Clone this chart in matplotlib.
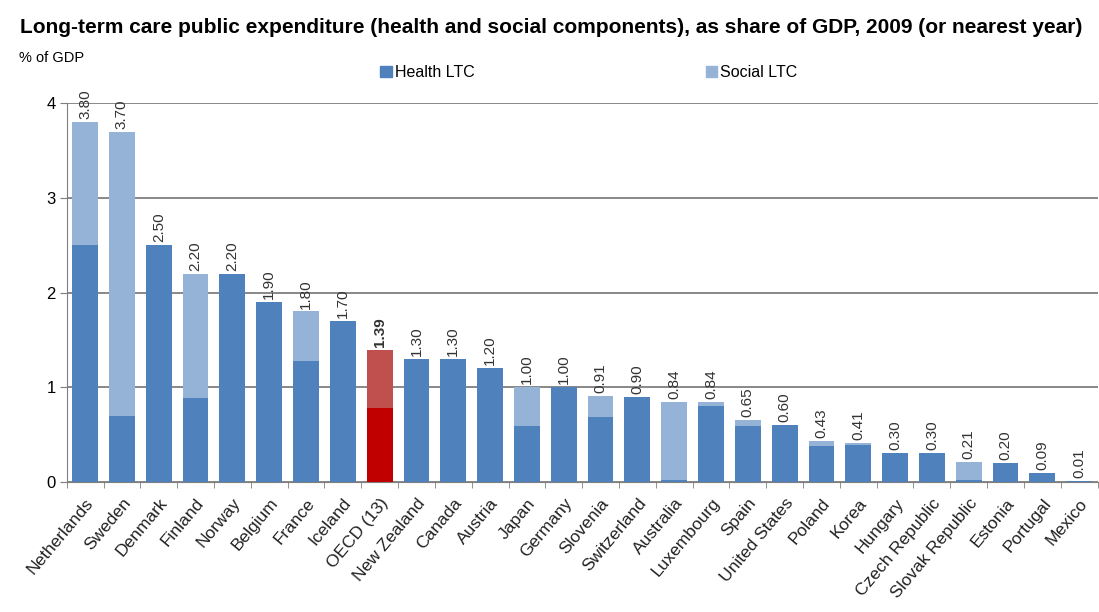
import numpy as np
import matplotlib.pyplot as plt
import matplotlib.transforms as mtransforms
from matplotlib.patches import Patch

plt.rcParams['font.family'] = ['Liberation Sans', 'DejaVu Sans']

countries = ['Netherlands', 'Sweden', 'Denmark', 'Finland', 'Norway', 'Belgium', 'France',
             'Iceland', 'OECD (13)', 'New Zealand', 'Canada', 'Austria', 'Japan', 'Germany',
             'Slovenia', 'Switzerland', 'Australia', 'Luxembourg', 'Spain', 'United States',
             'Poland', 'Korea', 'Hungary', 'Czech Republic', 'Slovak Republic', 'Estonia',
             'Portugal', 'Mexico']

totals = [3.80, 3.70, 2.50, 2.20, 2.20, 1.90, 1.80, 1.70, 1.39, 1.30, 1.30, 1.20, 1.00, 1.00,
          0.91, 0.90, 0.84, 0.84, 0.65, 0.60, 0.43, 0.41, 0.30, 0.30, 0.21, 0.20, 0.09, 0.01]
health = [2.50, 0.69, 2.50, 0.89, 2.20, 1.90, 1.28, 1.70, 0.78, 1.30, 1.30, 1.20, 0.59, 1.00,
          0.68, 0.90, 0.02, 0.80, 0.59, 0.60, 0.38, 0.39, 0.30, 0.30, 0.02, 0.20, 0.09, 0.01]
labels = ['3.80', '3.70', '2.50', '2.20', '2.20', '1.90', '1.80', '1.70', '1.39', '1.30', '1.30',
          '1.20', '1.00', '1.00', '0.91', '0.90', '0.84', '0.84', '0.65', '0.60', '0.43', '0.41',
          '0.30', '0.30', '0.21', '0.20', '0.09', '0.01']
highlight = 'OECD (13)'

totals = np.array(totals)
health = np.array(health)
social = totals - health
x = np.arange(len(countries))

c_health = '#4F81BD'
c_social = '#95B3D7'
c_health_hl = '#C00000'
c_social_hl = '#C0504D'

hc = [c_health_hl if c == highlight else c_health for c in countries]
sc = [c_social_hl if c == highlight else c_social for c in countries]

fig = plt.figure(figsize=(10.99, 6.12), dpi=100)
ax = fig.add_axes([0.0607, 0.2129, 0.938, 0.6183])

ax.bar(x, health, width=0.7, color=hc, zorder=3)
ax.bar(x, social, bottom=health, width=0.7, color=sc, zorder=3)

for i in range(len(x)):
    bold = 'bold' if countries[i] == highlight else 'normal'
    ax.text(x[i], totals[i] + 0.03, labels[i], rotation=90, ha='center', va='bottom',
            fontsize=11, color='#333333', fontweight=bold)

ax.set_xlim(-0.5, len(x) - 0.5)
ax.set_ylim(0, 4)
ax.set_yticks([0, 1, 2, 3, 4])
ax.yaxis.grid(True, color='#7f7f7f', linewidth=1.3, zorder=0)
ax.set_axisbelow(True)

ax.set_xticks(x)
ax.set_xticklabels(countries, rotation=50, ha='right', rotation_mode='anchor', fontsize=12.5,
                   color='#222222')
# nudge the slanted names a little to the left, as in the original
shift = mtransforms.ScaledTranslation(-7 / 100, 0, fig.dpi_scale_trans)
for lbl in ax.get_xticklabels():
    lbl.set_transform(lbl.get_transform() + shift)
ax.set_xticks(np.arange(len(x) + 1) - 0.5, minor=True)
ax.tick_params(axis='x', which='major', length=0, pad=10)
ax.tick_params(axis='x', which='minor', length=4, color='#7f7f7f', direction='out')
ax.tick_params(axis='y', labelsize=12, length=5, color='#7f7f7f', pad=3)

for s in ['top', 'right']:
    ax.spines[s].set_visible(False)
ax.spines['left'].set_color('#7f7f7f')
ax.spines['bottom'].set_color('#7f7f7f')

fig.text(0.018, 0.955, 'Long-term care public expenditure (health and social components), '
         'as share of GDP, 2009 (or nearest year)', fontsize=15, fontweight='bold',
         ha='left', va='center')
fig.text(0.017, 0.905, '% of GDP', fontsize=10.5, ha='left', va='center')

handles = [Patch(color=c_health, label='Health LTC'), Patch(color=c_social, label='Social LTC')]
fig.legend(handles=handles, loc='center', bbox_to_anchor=(0.536, 0.881), ncol=2,
           frameon=False, fontsize=11.5, handlelength=0.7, handleheight=0.7,
           handletextpad=0.2, columnspacing=14.5)

fig.savefig('out.png', dpi=100)
